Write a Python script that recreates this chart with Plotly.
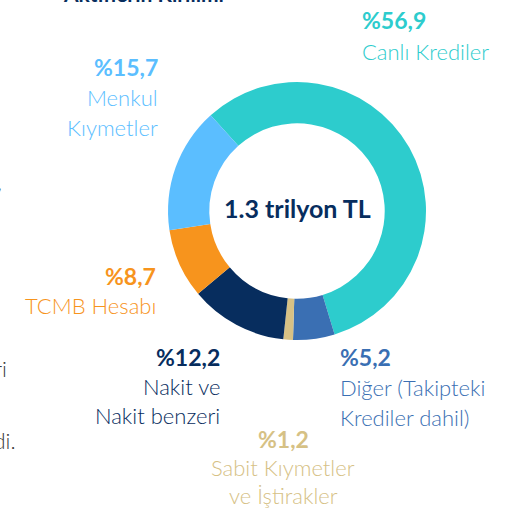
import plotly.graph_objects as go

# Asset breakdown (share of total, %), in drawing order clockwise
categories = ["Canlı Krediler", "Diğer (Takipteki Krediler dahil)", "Sabit Kıymetler ve İştirakler",
              "Nakit ve Nakit benzeri", "TCMB Hesabı", "Menkul Kıymetler"]
shares = [56.9, 5.2, 1.2, 12.2, 8.7, 15.7]
slice_colors = ["#2DCCCD", "#3A6FB3", "#D6C185", "#072D5E", "#F7941D", "#5BBEFF"]
label_lines = [["Canlı Krediler"], ["Diğer (Takipteki", "Krediler dahil)"],
               ["Sabit Kıymetler", "ve İştirakler"], ["Nakit ve", "Nakit benzeri"],
               ["TCMB Hesabı"], ["Menkul", "Kıymetler"]]
center_text = "1.3 trilyon TL"
title_text = "Aktiflerin Kırılımı"

W, H = 519, 509
FONT = "Lato"


def px(x):
    return x / W


def py(y):
    return 1 - y / H


cx, cy, r = 297, 211, 129

fig = go.Figure(go.Pie(
    labels=categories,
    values=shares,
    marker=dict(colors=slice_colors, line=dict(width=0)),
    hole=0.68,
    sort=False,
    direction="clockwise",
    rotation=-42,
    textinfo="none",
    hoverinfo="label+percent",
    showlegend=False,
    domain=dict(x=[px(cx - r), px(cx + r)], y=[py(cy + r), py(cy - r)]),
))

# label anchor: (x, y of percentage line, horizontal anchor, colour, line spacing)
label_pos = [
    (360, 20, "left", "#2DCCCD", 31),
    (338, 357, "left", "#3A6FB3", 30),
    (283, 439, "center", "#D6C185", 28),
    (222, 357, "right", "#072D5E", 29),
    (158, 276, "right", "#F7941D", 29),
    (160, 67, "right", "#5BBEFF", 30),
]

annotations = []
for share, lines, (x, y, anchor, col, gap) in zip(shares, label_lines, label_pos):
    annotations.append(dict(
        x=px(x), y=py(y), xref="paper", yref="paper", xanchor=anchor, yanchor="middle",
        text="%" + f"{share:.1f}".replace(".", ","), showarrow=False,
        font=dict(family=FONT, size=23, color=col, weight=700)))
    for i, line in enumerate(lines):
        annotations.append(dict(
            x=px(x), y=py(y + gap * (i + 1)), xref="paper", yref="paper",
            xanchor=anchor, yanchor="middle", text=line, showarrow=False,
            font=dict(family=FONT, size=22, color=col, weight=300)))

annotations.append(dict(
    x=px(cx), y=py(208), xref="paper", yref="paper", xanchor="center", yanchor="middle",
    text=center_text, showarrow=False,
    font=dict(family=FONT, size=25, color="#072D5E", weight=700)))

# heading sits above the visible area
annotations.append(dict(
    x=px(144), y=py(-6), xref="paper", yref="paper", xanchor="center", yanchor="middle",
    text=title_text, showarrow=False,
    font=dict(family=FONT, size=21, color="#072D5E", weight=700)))

# edges of the neighbouring text column
for txt, x, y in [(",", 4, 181), ("leri", 9, 368), ("edi.", 18, 440)]:
    annotations.append(dict(
        x=px(x), y=py(y), xref="paper", yref="paper", xanchor="right", yanchor="middle",
        text=txt, showarrow=False,
        font=dict(family=FONT, size=22, color="#3C3C3C", weight=300)))

fig.update_layout(
    width=W, height=H,
    margin=dict(l=0, r=0, t=0, b=0),
    paper_bgcolor="white", plot_bgcolor="white",
    annotations=annotations,
)

fig.write_html("out.html")
